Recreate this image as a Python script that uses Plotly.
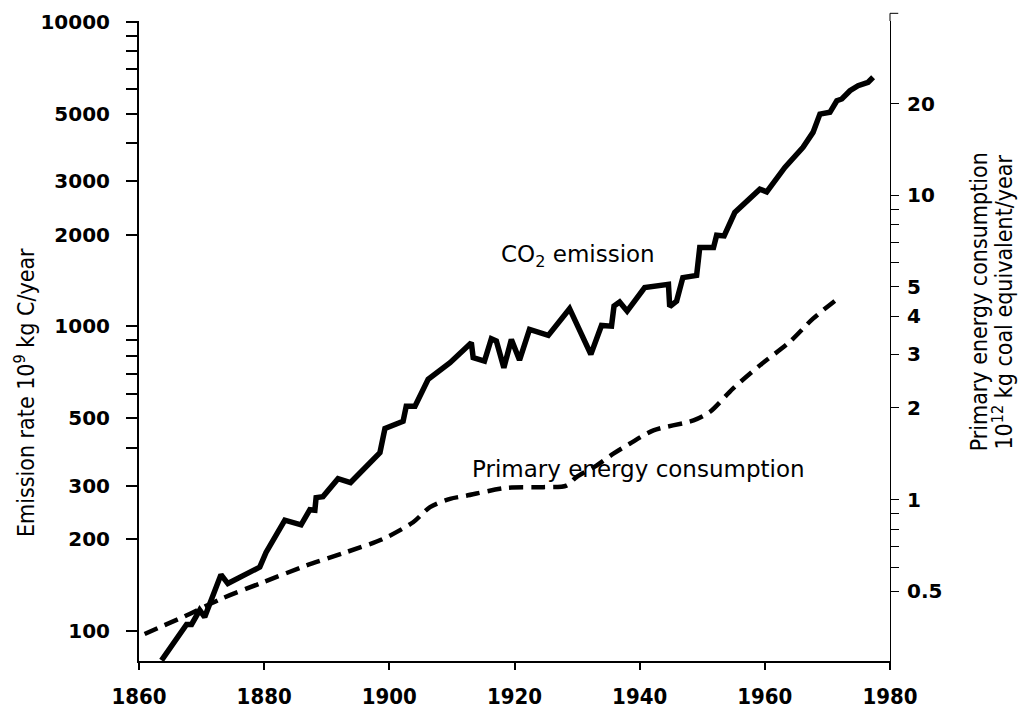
import plotly.graph_objects as go

# CO2 emission (10^9 kg C / year)
co2_years = [1863.6, 1867.6, 1868.4, 1869.7, 1870.5, 1873.1, 1874.2, 1879.3, 1880.3,
             1883.3, 1885.9, 1887.3, 1888.1, 1888.3, 1889.4, 1891.8, 1893.8, 1898.5,
             1899.3, 1902.2, 1902.7, 1904.1, 1906.2, 1909.7, 1913.1, 1913.4, 1915.2,
             1916.3, 1917.1, 1918.3, 1919.5, 1920.8, 1922.4, 1925.4, 1928.8, 1932.2,
             1933.9, 1935.5, 1935.9, 1936.8, 1938.0, 1940.8, 1944.6, 1944.8, 1945.9,
             1946.9, 1949.1, 1949.6, 1951.8, 1952.3, 1953.5, 1955.2, 1959.2, 1960.3,
             1963.2, 1966.1, 1967.7, 1968.8, 1970.4, 1971.5, 1972.3, 1973.6, 1974.9,
             1976.5, 1977.3]
co2_values = [80, 105, 105, 117, 111, 153, 143, 162, 181,
              231, 223, 250, 249, 274, 276, 316, 307, 385,
              462, 488, 547, 547, 670, 760, 884, 789, 769,
              911, 895, 731, 906, 775, 977, 934, 1143, 809,
              1007, 1002, 1166, 1202, 1122, 1341, 1375, 1161, 1211,
              1446, 1471, 1815, 1815, 1992, 1982, 2366, 2823, 2766,
              3327, 3872, 4337, 4980, 5047, 5509, 5583, 5943, 6170,
              6334, 6577]

# Primary energy consumption (10^12 kg coal equivalent / year)
energy_years = [1860.9, 1863.8, 1867.0, 1873.1, 1879.8, 1886.7, 1893.1, 1899.0,
                1903.8, 1906.5, 1909.7, 1912.3, 1918.7, 1924.6, 1928.3, 1929.9,
                1933.1, 1935.8, 1938.4, 1942.2, 1948.6, 1951.2, 1954.9, 1959.2,
                1964.0, 1967.7, 1971.7]
energy_values = [0.362, 0.385, 0.411, 0.472, 0.535, 0.607, 0.672, 0.743,
                 0.843, 0.945, 1.006, 1.03, 1.093, 1.099, 1.112, 1.186,
                 1.294, 1.415, 1.526, 1.688, 1.82, 1.94, 2.315, 2.76,
                 3.30, 3.93, 4.58]

x_ticks = [1860, 1880, 1900, 1920, 1940, 1960, 1980]
left_tickvals = [100, 200, 300, 400, 500, 600, 700, 800, 900, 1000, 2000, 3000,
                 4000, 5000, 6000, 7000, 8000, 9000, 10000]
left_ticktext = ["100", "200", "300", "", "500", "", "", "", "", "1000", "2000", "3000",
                 "", "5000", "", "", "", "", "10000"]
right_tickvals = [0.5, 0.6, 0.7, 0.8, 0.9, 1, 2, 3, 4, 5, 6, 7, 8, 9, 10, 20]
right_ticktext = ["0.5", "", "", "", "", "1", "2", "3", "4", "5", "", "", "", "", "10", "20"]

fig = go.Figure()
fig.add_trace(go.Scatter(x=co2_years, y=co2_values, mode="lines",
                         line=dict(color="black", width=5.5), yaxis="y", showlegend=False))
fig.add_trace(go.Scatter(x=energy_years, y=energy_values, mode="lines",
                         line=dict(color="black", width=4.5, dash="14px,8px", shape="spline", smoothing=0.8),
                         yaxis="y2", showlegend=False))

tickfont_y = dict(family="DejaVu Sans", size=20, color="black", weight="bold")
tickfont_x = dict(family="DejaVu Sans Condensed", size=22, color="black", weight="bold")

# page body adds an 8px margin, so the figure is 8px smaller and margins offset accordingly
fig.update_layout(
    width=1019, height=708,
    margin=dict(l=131, r=137, t=13, b=55, pad=0, autoexpand=False),
    paper_bgcolor="white", plot_bgcolor="white",
    xaxis=dict(range=[1860, 1980], tickvals=x_ticks, ticks="outside", ticklen=7,
               tickwidth=1.5, tickcolor="black", showline=True, linewidth=2,
               linecolor="black", showgrid=False, zeroline=False, automargin=False,
               tickfont=tickfont_x, ticklabelstandoff=8),
    yaxis=dict(type="log", range=[1.901, 4.003], tickvals=left_tickvals,
               ticktext=left_ticktext, ticks="outside", ticklen=11, tickwidth=1.5,
               tickcolor="black", showline=True, linewidth=2, linecolor="black",
               showgrid=False, zeroline=False, tickfont=tickfont_y, automargin=False,
               ticklabelstandoff=12),
    yaxis2=dict(type="log", range=[-0.530, 1.572], overlaying="y", side="right",
                anchor="x", tickvals=right_tickvals, ticktext=right_ticktext,
                ticks="outside", ticklen=8, tickwidth=1, tickcolor="black",
                showline=True, linewidth=1, linecolor="black", showgrid=False,
                zeroline=False, tickfont=tickfont_y, automargin=False,
                ticklabelstandoff=4),
)

title_font = dict(family="DejaVu Sans Condensed", size=23, color="black")
fig.add_annotation(text="Emission rate 10<sup>9</sup> kg C/year", xref="paper", yref="paper",
                   x=-0.152, y=0.42, textangle=-90, showarrow=False, font=title_font,
                   xanchor="center", yanchor="middle")
fig.add_annotation(text="Primary energy consumption", xref="paper", yref="paper",
                   x=1.119, y=0.561, textangle=-90, showarrow=False, font=title_font,
                   xanchor="center", yanchor="middle")
fig.add_annotation(text="10<sup>12</sup> kg coal equivalent/year", xref="paper", yref="paper",
                   x=1.150, y=0.561, textangle=-90, showarrow=False, font=title_font,
                   xanchor="center", yanchor="middle")

label_font = dict(family="DejaVu Sans", size=23, color="black")
fig.add_annotation(text="CO<sub>2</sub> emission", xref="paper", yref="paper",
                   x=0.585, y=0.633, showarrow=False, font=label_font,
                   xanchor="center", yanchor="middle")
fig.add_annotation(text="Primary energy consumption", xref="paper", yref="paper",
                   x=0.665, y=0.300, showarrow=False, font=label_font,
                   xanchor="center", yanchor="middle")

# small cap at top of right axis
fig.add_shape(type="line", xref="paper", yref="paper", x0=1, x1=1.011, y0=1.012, y1=1.012,
              line=dict(color="black", width=1))
fig.add_shape(type="line", xref="paper", yref="paper", x0=1, x1=1, y0=1, y1=1.012,
              line=dict(color="black", width=1))

fig.write_html("out.html")
